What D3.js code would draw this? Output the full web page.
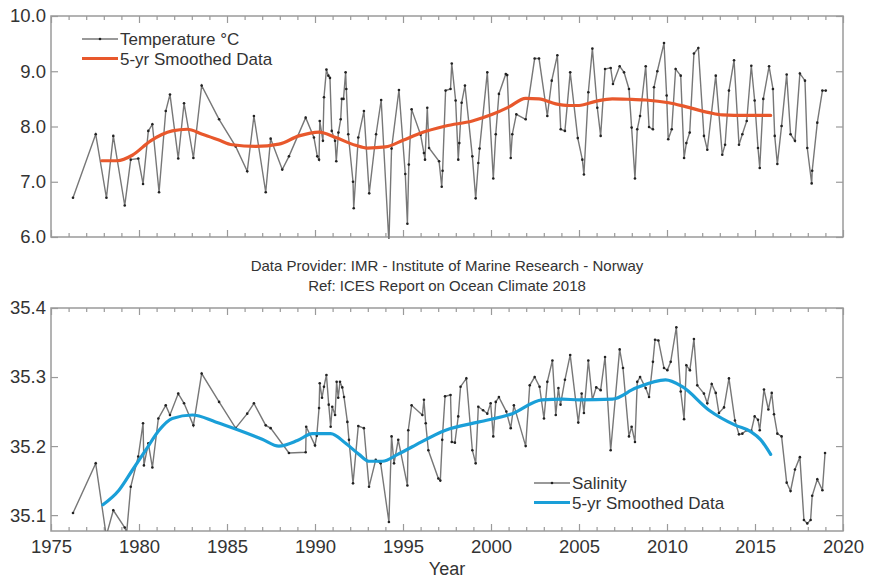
<!DOCTYPE html>
<html>
<head>
<meta charset="utf-8">
<script src="https://cdn.jsdelivr.net/npm/d3@7"></script>
<style>
  html, body { margin: 0; padding: 0; background: #fff; }
  svg { display: block; }
  text { font-family: "Liberation Sans", Arial, Helvetica, sans-serif; }
</style>
</head>
<body>
<svg id="chart" width="869" height="580"></svg>
<script>
// ---------------- DATA ----------------
const tempYears = [1976.25,1977.54,1978.15,1978.54,1979.19,1979.53,1979.96,1980.23,1980.53,1980.76,1981.14,1981.52,1981.76,1982.23,1982.56,1983.09,1983.56,1984.55,1985.49,1986.15,1986.53,1987.20,1987.48,1988.14,1988.52,1989.47,1989.94,1990.13,1990.23,1990.27,1990.45,1990.51,1990.65,1990.76,1990.85,1990.95,1991.14,1991.21,1991.33,1991.46,1991.52,1991.62,1991.74,1991.78,1991.89,1992.16,1992.20,1992.46,1992.78,1993.08,1993.47,1993.76,1994.20,1994.35,1994.77,1995.13,1995.25,1995.33,1995.49,1996.00,1996.19,1996.25,1996.38,1996.48,1997.05,1997.20,1997.25,1997.42,1997.70,1997.77,1997.99,1998.14,1998.20,1998.33,1998.52,1998.94,1999.13,1999.28,1999.35,1999.79,2000.13,2000.27,2000.45,2000.84,2000.92,2001.12,2001.21,2001.44,2001.97,2002.48,2002.73,2003.20,2003.45,2003.77,2003.96,2004.20,2004.50,2004.93,2005.19,2005.28,2005.53,2005.76,2006.04,2006.23,2006.48,2006.80,2006.93,2007.31,2007.56,2007.84,2007.99,2008.18,2008.31,2008.47,2008.79,2008.98,2009.20,2009.26,2009.45,2009.83,2009.98,2010.07,2010.27,2010.49,2010.78,2010.97,2011.10,2011.29,2011.53,2011.78,2012.10,2012.29,2012.77,2013.14,2013.30,2013.52,2013.81,2014.09,2014.28,2014.53,2014.79,2014.98,2015.17,2015.27,2015.47,2015.80,2016.02,2016.12,2016.27,2016.51,2016.80,2017.02,2017.27,2017.55,2017.84,2017.97,2018.22,2018.25,2018.54,2018.83,2019.02];
const tempValues = [6.71,7.86,6.71,7.83,6.57,7.40,7.42,6.96,7.92,8.04,6.81,8.28,8.58,7.42,8.42,7.43,8.74,8.13,7.64,7.19,8.19,6.81,7.78,7.22,7.46,8.16,7.80,7.46,7.40,8.10,7.74,8.53,9.03,8.92,8.88,7.92,7.74,7.37,7.89,8.13,8.50,8.50,8.98,8.68,7.86,7.00,6.52,7.80,8.28,6.79,7.86,8.48,5.90,7.60,8.66,7.14,6.24,7.31,8.31,7.85,7.52,7.40,8.34,7.61,7.37,6.91,7.20,8.65,8.68,9.14,8.47,7.40,7.70,8.43,8.74,7.46,6.70,7.34,7.60,8.98,7.06,7.86,8.59,8.95,8.93,7.43,7.86,8.22,8.13,9.23,9.23,8.19,8.83,9.29,7.95,7.92,8.98,7.79,7.40,7.13,8.62,9.41,8.34,7.83,9.04,9.06,8.77,9.09,8.98,8.68,7.98,7.06,7.95,8.19,9.09,7.99,7.95,8.71,9.00,9.51,8.56,7.77,7.95,9.04,8.92,7.43,7.70,7.89,9.32,9.42,7.83,7.58,8.92,7.49,7.67,8.65,9.20,7.67,7.86,8.10,9.10,8.47,7.61,7.25,8.50,9.09,8.68,7.83,7.32,8.01,8.94,7.86,7.74,8.96,8.83,7.61,6.97,7.20,8.07,8.65,8.65];

const tempSmoothYears = [1977.88,1978.77,1979.62,1980.66,1981.89,1982.74,1983.60,1984.50,1985.30,1986.63,1987.95,1989.09,1990.23,1991.18,1992.30,1992.97,1994.00,1995.00,1995.90,1997.42,1998.94,2000.08,2001.00,2001.97,2002.73,2003.68,2004.43,2005.00,2006.00,2006.89,2008.00,2008.79,2010.10,2011.05,2012.40,2013.14,2014.50,2015.89];
const tempSmoothValues = [7.38,7.38,7.48,7.74,7.92,7.95,7.86,7.76,7.67,7.64,7.68,7.83,7.90,7.80,7.66,7.61,7.63,7.75,7.87,8.01,8.10,8.22,8.35,8.51,8.50,8.41,8.38,8.38,8.46,8.50,8.49,8.48,8.43,8.36,8.25,8.21,8.20,8.20];

const salYears = [1976.25,1977.54,1978.14,1978.54,1979.19,1979.30,1979.53,1979.96,1980.23,1980.28,1980.53,1980.76,1981.10,1981.52,1981.76,1982.23,1982.56,1983.09,1983.56,1984.55,1985.49,1986.15,1986.53,1987.20,1987.48,1988.52,1989.47,1989.50,1990.00,1990.10,1990.23,1990.27,1990.40,1990.51,1990.65,1990.78,1990.89,1990.98,1991.14,1991.23,1991.32,1991.42,1991.55,1991.65,1991.84,1991.93,1992.16,1992.46,1992.78,1993.07,1993.45,1993.73,1994.20,1994.35,1994.49,1994.73,1995.25,1995.30,1995.49,1996.10,1996.19,1996.29,1996.44,1997.01,1997.12,1997.23,1997.39,1997.70,1997.77,1997.95,1998.14,1998.27,1998.60,1998.94,1999.13,1999.28,1999.55,1999.79,1999.98,2000.13,2000.27,2000.45,2000.87,2001.12,2001.30,2001.97,2002.20,2002.48,2002.76,2003.01,2003.20,2003.49,2003.68,2003.83,2003.95,2004.20,2004.50,2004.96,2005.15,2005.28,2005.53,2005.76,2005.98,2006.23,2006.48,2006.80,2007.31,2007.50,2007.84,2007.99,2008.18,2008.31,2008.47,2008.79,2008.98,2009.20,2009.32,2009.51,2009.83,2010.02,2010.21,2010.53,2010.78,2010.97,2011.10,2011.30,2011.53,2011.72,2012.10,2012.29,2012.54,2012.77,2012.95,2013.24,2013.52,2013.86,2014.09,2014.28,2014.53,2014.79,2014.98,2015.17,2015.27,2015.51,2015.76,2015.95,2016.08,2016.27,2016.51,2016.80,2017.02,2017.27,2017.55,2017.78,2017.97,2018.16,2018.25,2018.54,2018.83,2018.98];
const salValues = [35.103,35.175,35.070,35.107,35.082,35.075,35.141,35.185,35.233,35.172,35.204,35.169,35.240,35.259,35.245,35.276,35.262,35.230,35.305,35.264,35.226,35.247,35.262,35.230,35.226,35.190,35.191,35.228,35.201,35.215,35.255,35.291,35.270,35.286,35.303,35.260,35.228,35.257,35.245,35.293,35.270,35.293,35.285,35.271,35.235,35.209,35.146,35.229,35.226,35.141,35.180,35.175,35.090,35.214,35.175,35.209,35.143,35.223,35.259,35.245,35.267,35.233,35.194,35.153,35.150,35.209,35.272,35.274,35.206,35.205,35.243,35.286,35.298,35.194,35.175,35.257,35.252,35.247,35.262,35.214,35.264,35.271,35.250,35.226,35.259,35.200,35.288,35.300,35.286,35.240,35.293,35.324,35.245,35.284,35.260,35.296,35.332,35.234,35.276,35.248,35.324,35.267,35.285,35.281,35.329,35.194,35.340,35.313,35.214,35.228,35.206,35.293,35.300,35.284,35.271,35.322,35.354,35.353,35.313,35.310,35.322,35.372,35.279,35.239,35.317,35.310,35.355,35.288,35.276,35.262,35.290,35.277,35.248,35.256,35.298,35.237,35.217,35.218,35.223,35.222,35.243,35.238,35.223,35.282,35.253,35.277,35.246,35.218,35.214,35.147,35.135,35.166,35.184,35.093,35.088,35.093,35.128,35.152,35.136,35.190];

const salSmoothYears = [1977.95,1978.86,1979.62,1980.38,1981.14,1981.89,1983.03,1984.35,1985.68,1987.00,1987.95,1989.00,1989.85,1990.89,1991.74,1992.50,1993.07,1993.83,1994.70,1995.53,1997.42,1999.32,2001.21,2002.90,2004.05,2005.00,2006.89,2008.22,2009.92,2010.87,2012.39,2013.90,2014.76,2015.33,2015.89];
const salSmoothValues = [35.115,35.136,35.165,35.194,35.223,35.240,35.245,35.235,35.223,35.210,35.200,35.208,35.218,35.218,35.204,35.188,35.178,35.178,35.188,35.199,35.223,35.235,35.247,35.267,35.268,35.267,35.268,35.284,35.296,35.286,35.252,35.230,35.221,35.209,35.188];

const xTickLabels = [1975, 1980, 1985, 1990, 1995, 2000, 2005, 2010, 2015, 2020];
const tempTickLabels = [6.0, 7.0, 8.0, 9.0, 10.0];
const salTickLabels = [35.1, 35.2, 35.3, 35.4];
const captionLines = ["Data Provider: IMR - Institute of Marine Research - Norway", "Ref: ICES Report on Ocean Climate 2018"];

// ---------------- LAYOUT ----------------
const svg = d3.select("#chart");
const left = 51, right = 843;
const top1 = 16, bot1 = 237;
const top2 = 308, bot2 = 531;

const AXIS = "#9a9a9a";
const TXT = "#333";
const LINE = "#777";
const DOT = "#222";
const ORANGE = "#e8582c";
const BLUE = "#1a9fd8";

const x = d3.scaleLinear().domain([1975, 2020]).range([left, right]);
const yT = d3.scaleLinear().domain([6.0, 10.0]).range([bot1, top1]);
const yS = d3.scaleLinear().domain([35.077, 35.4]).range([bot2, top2]);

const years = d3.range(1975, 2021);

function frame(top, bot, yScale, yTicks, fmt, showX) {
  const g = svg.append("g");
  g.append("rect").attr("x", left).attr("y", top).attr("width", right - left).attr("height", bot - top)
    .attr("fill", "none").attr("stroke", AXIS).attr("stroke-width", 1.5);

  const minor = years.filter(v => v % 5 !== 0);
  const major = years.filter(v => v % 5 === 0);
  const mk = (scaleAxis, vals, size, y) => {
    const a = g.append("g").attr("transform", `translate(0,${y})`)
      .call(scaleAxis(x).tickValues(vals).tickSize(size).tickFormat(""));
    a.select(".domain").remove();
    a.selectAll("line").attr("stroke", AXIS).attr("stroke-width", 1.2);
    return a;
  };
  mk(d3.axisTop, minor, 4, bot);
  mk(d3.axisTop, major, 7, bot);
  mk(d3.axisBottom, minor, 4, top);
  mk(d3.axisBottom, major, 7, top);

  if (showX) {
    const lab = g.append("g").attr("transform", `translate(0,${bot})`)
      .call(d3.axisBottom(x).tickValues(xTickLabels).tickSize(0).tickPadding(9).tickFormat(d3.format("d")));
    lab.select(".domain").remove();
    lab.selectAll("text").attr("font-size", 18.5).attr("fill", TXT)
      .attr("font-family", "Liberation Sans, Arial, sans-serif");
  }

  const yl = g.append("g").attr("transform", `translate(${left},0)`)
    .call(d3.axisRight(yScale).tickValues(yTicks).tickSize(7).tickFormat(""));
  yl.select(".domain").remove();
  yl.selectAll("line").attr("stroke", AXIS).attr("stroke-width", 1.2);
  const yr = g.append("g").attr("transform", `translate(${right},0)`)
    .call(d3.axisLeft(yScale).tickValues(yTicks).tickSize(7).tickFormat(""));
  yr.select(".domain").remove();
  yr.selectAll("line").attr("stroke", AXIS).attr("stroke-width", 1.2);

  const labs = g.append("g").attr("transform", `translate(${left},0)`)
    .call(d3.axisLeft(yScale).tickValues(yTicks).tickSize(0).tickPadding(5).tickFormat(fmt));
  labs.select(".domain").remove();
  labs.selectAll("text").attr("font-size", 18.5).attr("fill", TXT)
    .attr("font-family", "Liberation Sans, Arial, sans-serif");
  return g;
}

frame(top1, bot1, yT, tempTickLabels, d3.format(".1f"), false);
frame(top2, bot2, yS, salTickLabels, d3.format(".1f"), true);

const defs = svg.append("defs");
defs.append("clipPath").attr("id", "c1").append("rect")
  .attr("x", left).attr("y", top1).attr("width", right - left).attr("height", bot1 - top1 + 2);
defs.append("clipPath").attr("id", "c2").append("rect")
  .attr("x", left).attr("y", top2).attr("width", right - left).attr("height", bot2 - top2);

function series(xs, ys, yScale, clip) {
  const pts = xs.map((v, i) => [v, ys[i]]);
  const g = svg.append("g").attr("clip-path", `url(#${clip})`);
  g.append("path").datum(pts)
    .attr("d", d3.line().x(d => x(d[0])).y(d => yScale(d[1])))
    .attr("fill", "none").attr("stroke", LINE).attr("stroke-width", 1.4);
  g.selectAll("circle").data(pts).enter().append("circle")
    .attr("cx", d => x(d[0])).attr("cy", d => yScale(d[1])).attr("r", 1.3).attr("fill", DOT);
}
function smooth(xs, ys, yScale, color, clip) {
  const pts = xs.map((v, i) => [v, ys[i]]);
  svg.append("g").attr("clip-path", `url(#${clip})`).append("path").datum(pts)
    .attr("d", d3.line().curve(d3.curveMonotoneX).x(d => x(d[0])).y(d => yScale(d[1])))
    .attr("fill", "none").attr("stroke", color).attr("stroke-width", 3.2).attr("stroke-linecap", "round");
}

series(tempYears, tempValues, yT, "c1");
smooth(tempSmoothYears, tempSmoothValues, yT, ORANGE, "c1");
series(salYears, salValues, yS, "c2");
smooth(salSmoothYears, salSmoothValues, yS, BLUE, "c2");

function legend(lx, ly, items) {
  items.forEach((it, i) => {
    const yy = ly + i * 19.5;
    const g = svg.append("g");
    g.append("line").attr("x1", lx).attr("x2", lx + 36).attr("y1", yy).attr("y2", yy)
      .attr("stroke", it.color).attr("stroke-width", it.w);
    if (it.dot) g.append("circle").attr("cx", lx + 18).attr("cy", yy).attr("r", 1.3).attr("fill", DOT);
    g.append("text").attr("x", lx + 38).attr("y", yy).attr("dy", "0.36em")
      .attr("font-size", 17).attr("fill", TXT).text(it.label);
  });
}
legend(82, 39, [
  { label: "Temperature \u00B0C", color: LINE, w: 1.4, dot: true },
  { label: "5-yr Smoothed Data", color: ORANGE, w: 3.2 }
]);
legend(534, 483, [
  { label: "Salinity", color: LINE, w: 1.4, dot: true },
  { label: "5-yr Smoothed Data", color: BLUE, w: 3.2 }
]);

svg.selectAll(".cap").data(captionLines).enter().append("text")
  .attr("class", "cap")
  .attr("x", 447).attr("y", (d, i) => 271 + i * 20)
  .attr("text-anchor", "middle").attr("font-size", 15).attr("fill", TXT).text(d => d);

svg.append("text").attr("x", 447).attr("y", 575).attr("text-anchor", "middle")
  .attr("font-size", 18).attr("fill", TXT).text("Year");
</script>
</body>
</html>
